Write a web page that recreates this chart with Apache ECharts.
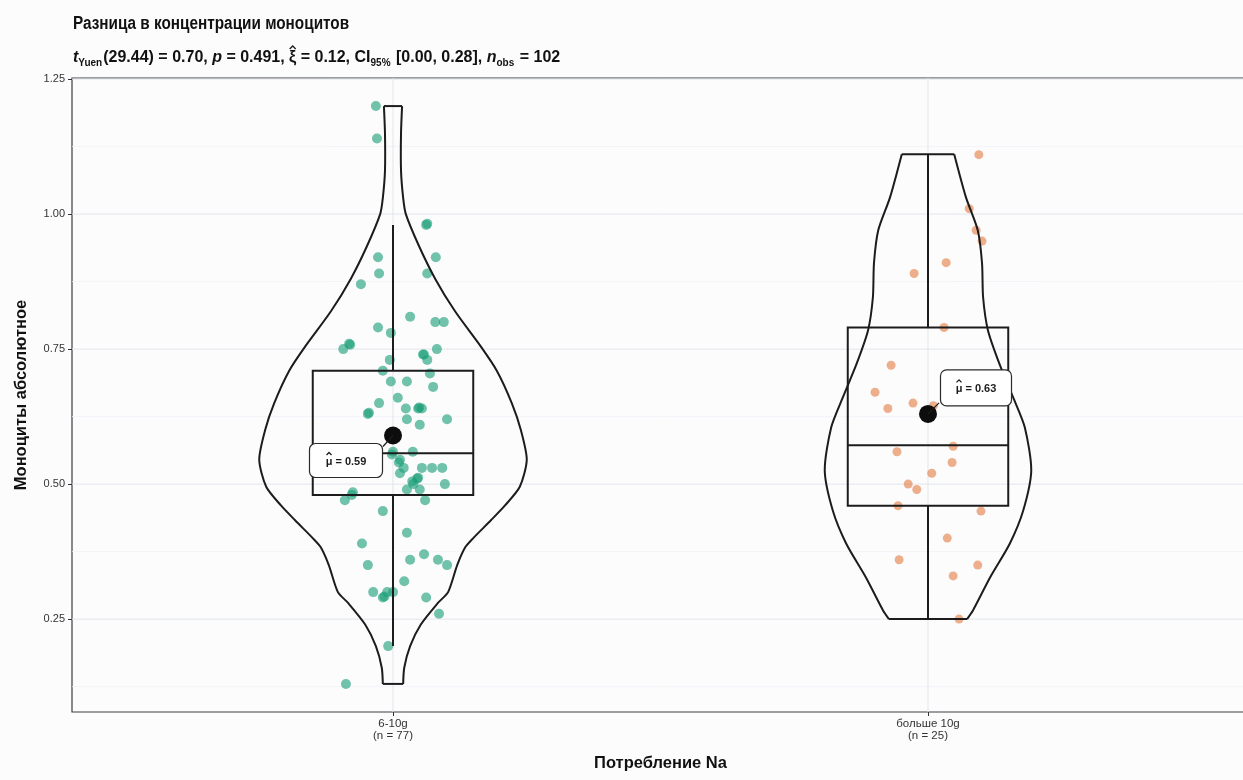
<!DOCTYPE html>
<html>
<head>
<meta charset="utf-8">
<script src="https://cdn.jsdelivr.net/npm/echarts@6/dist/echarts.min.js"></script>
<style>
  html, body { margin: 0; padding: 0; background: #fcfcfd; overflow: hidden; }
  #chart { width: 1250px; height: 780px; }
</style>
</head>
<body>
<div id="chart"></div>
<script>
// Groups
const categories = ['6-10g', 'больше 10g'];
const groupSizes = [77, 25];

// Monocyte counts, group "6-10g", with horizontal jitter (x-axis units)
const valuesA = [1.20, 1.14, 0.98, 0.92, 0.92, 0.89, 0.89, 0.87, 0.81, 0.79,
  0.80, 0.80, 0.78, 0.76, 0.75, 0.75, 0.74, 0.73, 0.73, 0.71,
  0.705, 0.69, 0.69, 0.68, 0.66, 0.65, 0.63, 0.64, 0.64, 0.64,
  0.62, 0.62, 0.61, 0.56, 0.555, 0.545, 0.54, 0.53, 0.53, 0.53,
  0.52, 0.51, 0.505, 0.50, 0.49, 0.49, 0.48, 0.47, 0.47, 0.45,
  0.41, 0.39, 0.37, 0.36, 0.36, 0.35, 0.35, 0.32, 0.30, 0.29,
  0.30, 0.30, 0.29, 0.26, 0.20, 0.13, 0.632, 0.642, 0.512, 0.292,
  0.982, 0.758, 0.74, 0.56, 0.485, 0.50, 0.53];
const jitterA = [-0.032, -0.030, 0.062, -0.028, 0.080, -0.026, 0.064, -0.060, 0.032, -0.028,
  0.079, 0.095, -0.004, -0.082, -0.093, 0.082, 0.056, 0.064, -0.006, -0.019,
  0.069, -0.004, 0.026, 0.075, 0.009, -0.026, -0.047, 0.024, 0.047, 0.054,
  0.026, 0.101, 0.050, 0.037, -0.002, 0.013, 0.011, 0.054, 0.073, 0.092,
  0.013, 0.045, 0.036, 0.097, 0.026, 0.050, -0.077, -0.090, 0.060, -0.019,
  0.026, -0.058, 0.058, 0.032, 0.084, 0.101, -0.047, 0.021, -0.037, -0.019,
  -0.011, 0.000, 0.062, 0.086, -0.009, -0.088, -0.045, 0.049, 0.047, -0.016,
  0.064, -0.080, 0.058, 0.000, -0.075, 0.038, 0.020];

// Monocyte counts, group "больше 10g"
const valuesB = [1.11, 1.01, 0.97, 0.95, 0.91, 0.89, 0.79, 0.72, 0.67, 0.65,
  0.64, 0.57, 0.56, 0.54, 0.52, 0.50, 0.49, 0.46, 0.45, 0.40,
  0.35, 0.36, 0.33, 0.25, 0.645];
const jitterB = [0.095, 0.077, 0.090, 0.101, 0.034, -0.026, 0.030, -0.069, -0.099, -0.028,
  -0.075, 0.047, -0.058, 0.045, 0.007, -0.037, -0.021, -0.056, 0.099, 0.036,
  0.093, -0.054, 0.047, 0.058, 0.010];

// Box statistics: [lower whisker, Q1, median, Q3, upper whisker]
const boxA = [0.20, 0.48, 0.557, 0.71, 0.98];
const boxB = [0.25, 0.46, 0.572, 0.79, 1.11];
const means = [0.59, 0.63];

// Violin outline: density half-width (x-axis units) at each value level
const violinLevelsA = [0.13, 0.16, 0.20, 0.24, 0.28, 0.30, 0.35, 0.383, 0.40, 0.433,
  0.46, 0.495, 0.545, 0.60, 0.65, 0.71, 0.755, 0.82, 0.88, 0.94,
  1.00, 1.03, 1.08, 1.15, 1.20];
const violinWidthsA = [0.019, 0.021, 0.032, 0.052, 0.084, 0.103, 0.120, 0.135, 0.150, 0.183,
  0.209, 0.237, 0.250, 0.239, 0.222, 0.194, 0.164, 0.116, 0.079, 0.049,
  0.024, 0.019, 0.015, 0.015, 0.017];
const violinLevelsB = [0.25, 0.266, 0.327, 0.39, 0.451, 0.525, 0.605, 0.661, 0.724, 0.785,
  0.846, 0.909, 0.97, 1.031, 1.111];
const violinWidthsB = [0.073, 0.084, 0.116, 0.153, 0.178, 0.193, 0.181, 0.159, 0.133, 0.112,
  0.103, 0.101, 0.093, 0.071, 0.049];

// Axis ticks and grid
const xTicks = [1, 2];
const yTicks = [0.25, 0.50, 0.75, 1.00, 1.25];
const yMinorTicks = [0.125, 0.375, 0.625, 0.875, 1.125];

const titleText = 'Разница в концентрации моноцитов';
const xName = 'Потребление Na';
const yName = 'Моноциты абсолютное';

// Test statistics line: [text, style]
const subtitleParts = [
  ['t', 'it'], ['Yuen', 'sub'], ['(29.44) = 0.70, ', 'n'],
  ['p', 'it'], [' = 0.491, ', 'n'],
  ['\u03BE', 'hat'], [' = 0.12, CI', 'n'], ['95%', 'sub'], [' [0.00, 0.28], ', 'n'],
  ['n', 'it'], ['obs', 'sub'], [' = 102', 'n']
];

const INK = '#1c1c1c';
const BOX_HALF = 0.15;
const FACE = '"Liberation Sans", Arial, sans-serif';

const groups = [
  { x: 1, box: boxA, levels: violinLevelsA, widths: violinWidthsA },
  { x: 2, box: boxB, levels: violinLevelsB, widths: violinWidthsB }
];

const measureCtx = document.createElement('canvas').getContext('2d');
function textWidth(str, font) {
  measureCtx.font = font;
  return measureCtx.measureText(str).width;
}

// small circumflex drawn above a glyph centred at cx
function hatShape(cx, top, halfW, h) {
  return {
    type: 'polyline',
    shape: { points: [[cx - halfW, top + h], [cx, top], [cx + halfW, top + h]] },
    style: { stroke: INK, lineWidth: 1.3, fill: null }
  };
}

function buildSubtitle(x0, midY) {
  const fonts = {
    n: 'bold 16px ' + FACE,
    it: 'italic bold 16px ' + FACE,
    hat: 'bold 16px ' + FACE,
    sub: 'bold 10px ' + FACE
  };
  const children = [];
  let x = x0;
  subtitleParts.forEach(([str, kind]) => {
    const font = fonts[kind];
    const w = textWidth(str, font);
    children.push({
      type: 'text', x: x, y: kind === 'sub' ? midY + 5 : midY,
      style: { text: str, font: font, fill: '#111', verticalAlign: 'middle', align: 'left' }
    });
    if (kind === 'hat') children.push(hatShape(x + w / 2, midY - 12, 3, 3));
    x += w + (kind === 'sub' ? 1 : 0);
  });
  return children;
}

const chart = echarts.init(document.getElementById('chart'), null, { renderer: 'canvas' });

function gridLines(params, api) {
  const cs = params.coordSys;
  const kind = api.value(0);
  const v = api.value(1);
  let shape;
  if (kind === 2) {
    const p = api.coord([v, 0.5]);
    shape = { x1: p[0], y1: cs.y, x2: p[0], y2: cs.y + cs.height };
  } else {
    const p = api.coord([1, v]);
    shape = { x1: cs.x, y1: p[1], x2: cs.x + cs.width, y2: p[1] };
  }
  return {
    type: 'line',
    shape: shape,
    style: { stroke: kind === 1 ? '#f0f2f5' : '#e1e5ea', lineWidth: kind === 1 ? 0.8 : 1 }
  };
}

function violinBox(params, api) {
  const g = groups[params.dataIndex];
  const right = [], left = [];
  for (let i = 0; i < g.levels.length; i++) {
    right.push(api.coord([g.x + g.widths[i], g.levels[i]]));
  }
  for (let i = g.levels.length - 1; i >= 0; i--) {
    left.push(api.coord([g.x - g.widths[i], g.levels[i]]));
  }
  const b = g.box;
  const tl = api.coord([g.x - BOX_HALF, b[3]]);
  const br = api.coord([g.x + BOX_HALF, b[1]]);
  const med = api.coord([g.x, b[2]]);
  const wTop = api.coord([g.x, b[4]]);
  const wBot = api.coord([g.x, b[0]]);
  const lineStyle = { stroke: INK, lineWidth: 2, fill: null };
  const topR = right[right.length - 1], botL = left[left.length - 1];
  return {
    type: 'group',
    children: [
      { type: 'polyline', shape: { points: right, smooth: 0.25 }, style: lineStyle },
      { type: 'polyline', shape: { points: left, smooth: 0.25 }, style: lineStyle },
      { type: 'line', shape: { x1: topR[0], y1: topR[1], x2: left[0][0], y2: left[0][1] }, style: lineStyle },
      { type: 'line', shape: { x1: right[0][0], y1: right[0][1], x2: botL[0], y2: botL[1] }, style: lineStyle },
      { type: 'line', shape: { x1: wTop[0], y1: wTop[1], x2: wTop[0], y2: tl[1] }, style: lineStyle },
      { type: 'line', shape: { x1: wBot[0], y1: br[1], x2: wBot[0], y2: wBot[1] }, style: lineStyle },
      { type: 'rect', shape: { x: tl[0], y: tl[1], width: br[0] - tl[0], height: br[1] - tl[1] }, style: lineStyle },
      { type: 'line', shape: { x1: tl[0], y1: med[1], x2: br[0], y2: med[1] }, style: lineStyle }
    ]
  };
}

function meanLabel(params, api) {
  const i = params.dataIndex;
  const p = api.coord([api.value(0), api.value(1)]);
  // label box placement relative to the mean point
  const spec = i === 0
    ? { cx: -47, cy: 25, w: 73, h: 34, lx: -10, ly: 11 }
    : { cx: 48, cy: -26, w: 71, h: 36, lx: 11, ly: -11 };
  const bx = p[0] + spec.cx - spec.w / 2;
  const by = p[1] + spec.cy - spec.h / 2;
  const font = 'bold 11px ' + FACE;
  const label = '\u03BC = ' + api.value(1).toFixed(2);
  const tw = textWidth(label, font);
  const tx = bx + spec.w / 2 - tw / 2;
  const ty = by + spec.h / 2 + 1;
  const muW = textWidth('\u03BC', font);
  return {
    type: 'group',
    children: [
      { type: 'line', shape: { x1: p[0], y1: p[1], x2: p[0] + spec.lx, y2: p[1] + spec.ly },
        style: { stroke: INK, lineWidth: 1.2 } },
      { type: 'rect', shape: { x: bx, y: by, width: spec.w, height: spec.h, r: 6 },
        style: { fill: '#ffffff', stroke: '#2a2a2a', lineWidth: 1.2 } },
      { type: 'text', x: tx, y: ty,
        style: { text: label, fill: INK, font: font, align: 'left', verticalAlign: 'middle' } },
      hatShape(tx + muW / 2, ty - 9, 2.5, 2.5)
    ]
  };
}

const gridData = []
  .concat(yMinorTicks.map(v => [1, v]))
  .concat(yTicks.map(v => [0, v]))
  .concat(xTicks.map(v => [2, v]));

const option = {
  backgroundColor: '#fcfcfd',
  animation: false,
  textStyle: { fontFamily: FACE },
  graphic: [
    {
      // heading, set slightly condensed
      type: 'text', x: 73, y: 15, scaleX: 0.875,
      style: { text: titleText, font: 'bold 17.5px ' + FACE, fill: '#111', verticalAlign: 'top', align: 'left' }
    },
    { type: 'group', children: buildSubtitle(73, 58) }
  ],
  grid: {
    left: 72, top: 78, right: 1, bottom: 68,
    show: true, backgroundColor: '#fcfcfd', borderColor: '#3a3f44', borderWidth: 1.2
  },
  xAxis: {
    type: 'value', min: 0.4, max: 2.6,
    name: xName, nameLocation: 'middle', nameGap: 43,
    nameTextStyle: { fontSize: 16.5, fontWeight: 'bold', color: '#111' },
    axisLine: { show: false },
    axisTick: { show: true, customValues: xTicks, length: 4, lineStyle: { color: '#333', width: 1 } },
    axisLabel: {
      customValues: xTicks, fontSize: 11.5, color: '#333', lineHeight: 12, margin: 6,
      formatter: v => categories[Math.round(v) - 1] + '\n(n = ' + groupSizes[Math.round(v) - 1] + ')'
    },
    splitLine: { show: false }
  },
  yAxis: {
    type: 'value', min: 0.078, max: 1.252,
    name: yName, nameLocation: 'middle', nameGap: 42, nameRotate: 90,
    nameTextStyle: { fontSize: 16.5, fontWeight: 'bold', color: '#111' },
    axisLine: { show: false },
    axisTick: { show: true, customValues: yTicks, length: 4, lineStyle: { color: '#333', width: 1 } },
    axisLabel: { customValues: yTicks, fontSize: 11, color: '#333', margin: 7, formatter: v => v.toFixed(2) },
    splitLine: { show: false }
  },
  series: [
    {
      type: 'custom', name: 'grid', renderItem: gridLines, data: gridData, z: 1, silent: true
    },
    {
      type: 'scatter', name: categories[0], z: 2, symbolSize: 10,
      itemStyle: { color: '#1b9e77', opacity: 0.62 },
      data: valuesA.map((v, i) => [1 + jitterA[i], v])
    },
    {
      type: 'scatter', name: categories[1], z: 2, symbolSize: 9,
      itemStyle: { color: '#e0702e', opacity: 0.55 },
      data: valuesB.map((v, i) => [2 + jitterB[i], v])
    },
    {
      type: 'custom', name: 'violin', renderItem: violinBox, z: 3, silent: true,
      data: groups.map(g => [g.x, g.box[2]])
    },
    {
      type: 'scatter', name: 'mean', z: 4, symbolSize: 18,
      itemStyle: { color: '#0d0d0d', opacity: 1 },
      data: means.map((m, i) => [xTicks[i], m])
    },
    {
      type: 'custom', name: 'meanLabel', renderItem: meanLabel, z: 5, silent: true,
      data: means.map((m, i) => [xTicks[i], m])
    }
  ]
};

chart.setOption(option);
</script>
</body>
</html>
